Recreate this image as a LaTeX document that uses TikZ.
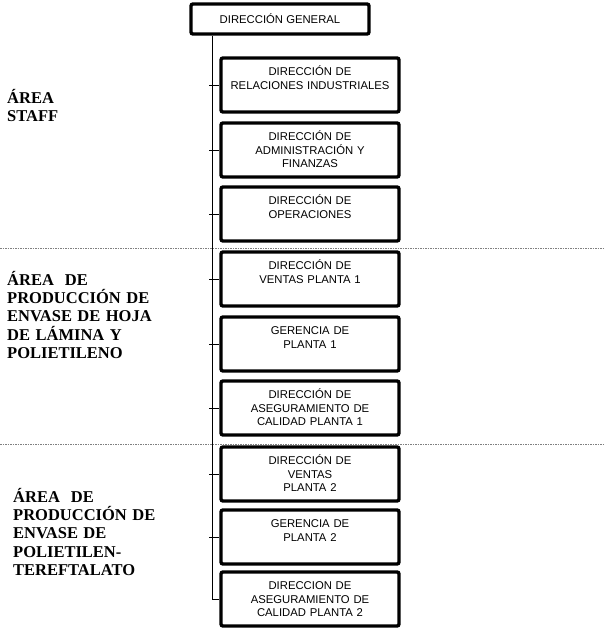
\documentclass[tikz,border=0pt]{standalone}
\usepackage{fontspec}
\setmainfont{Liberation Serif}
\newfontfamily\boxfont{Liberation Sans}
\begin{document}
\begin{tikzpicture}[x=1pt,y=-1pt,
  unit/.style={draw,line width=3.4pt,rounded corners=2pt,fill=white,text width=170pt,align=center,
    inner xsep=4pt,inner ysep=5pt,text height=12.5pt,text depth=31.5pt,font=\boxfont\fontsize{11.3}{13.5}\selectfont},
  area/.style={anchor=base west,text width=190pt,align=left,inner sep=0pt,font=\bfseries\fontsize{16.5}{18.4}\selectfont},
  sep/.style={gray,line width=0.6pt,dash pattern=on 1.5pt off 1pt}]
\useasboundingbox (0,0) rectangle (603,635);
\draw[sep] (0,248) -- (603,248);
\draw[sep] (0,444) -- (603,444);
\node[draw,line width=3.4pt,rounded corners=2pt,minimum width=178pt,minimum height=30pt,
  font=\boxfont\fontsize{11.3}{13.5}\selectfont] (gen) at (280,19) {DIRECCIÓN GENERAL};
\node[unit] (u1) at (310,85) {DIRECCIÓN DE\\RELACIONES INDUSTRIALES};
\node[unit] (u2) at (310,150) {DIRECCIÓN DE\\ADMINISTRACIÓN Y\\FINANZAS};
\node[unit] (u3) at (310,214) {DIRECCIÓN DE\\OPERACIONES};
\node[unit] (u4) at (310,279) {DIRECCIÓN DE\\VENTAS PLANTA 1};
\node[unit] (u5) at (310,344) {GERENCIA DE\\PLANTA 1};
\node[unit] (u6) at (310,408) {DIRECCIÓN DE\\ASEGURAMIENTO DE\\CALIDAD PLANTA 1};
\node[unit] (u7) at (310,474) {DIRECCIÓN DE\\VENTAS\\PLANTA 2};
\node[unit] (u8) at (310,537) {GERENCIA DE\\PLANTA 2};
\node[unit] (u9) at (310,599) {DIRECCION DE\\ASEGURAMIENTO DE\\CALIDAD PLANTA 2};
\node[area] (staff) at (7,103) {ÁREA\\STAFF};
\node[area] (hoja) at (7,285) {ÁREA~ DE\\PRODUCCIÓN DE\\ENVASE DE HOJA\\DE LÁMINA Y\\POLIETILENO};
\node[area] (pet) at (13,502) {ÁREA~ DE\\PRODUCCIÓN DE\\ENVASE DE\\POLIETILEN-\\TEREFTALATO};
\coordinate (trunk) at (212,0);
\draw[line width=0.8pt] (gen.south -| trunk) |- (u9.west);
\foreach \i in {1,...,8}
  \draw[line width=0.8pt] (u\i.west -| trunk) ++(-3,0) -- (u\i.west);
\end{tikzpicture}
\end{document}
